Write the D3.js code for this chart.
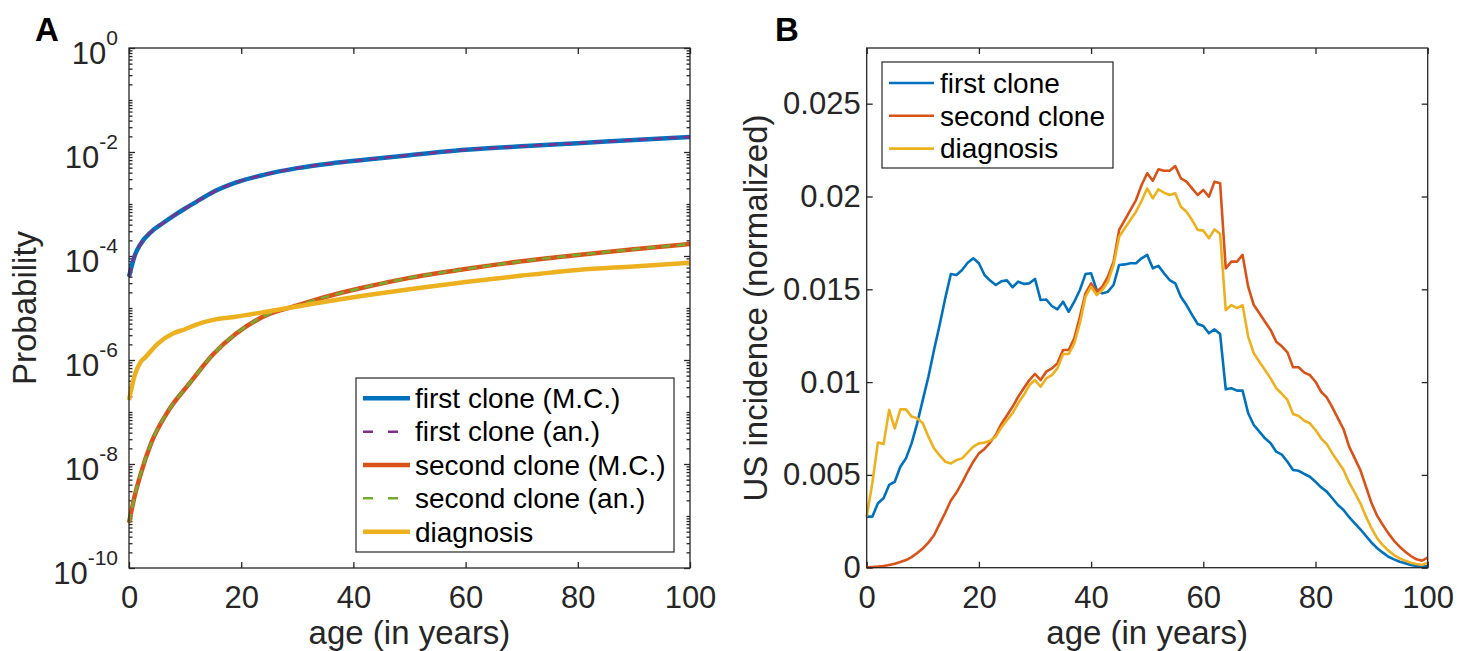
<!DOCTYPE html>
<html lang="en">
<head>
<meta charset="UTF-8">
<title>clone incidence</title>
<style>
  body { margin: 0; background: #fff; }
  svg { display: block; font-family: "Liberation Sans", Arial, sans-serif; }
</style>
</head>
<body>
<script src="https://cdn.jsdelivr.net/npm/d3@7"></script>
<div id="chart"></div>
<script>
// ---- panel A data (probability vs age, log scale) ----
const agesFirst = [0, 1, 2, 4, 6, 8, 10, 12, 15, 19, 24, 30, 36, 42, 50, 60, 70, 80, 90, 100];
const firstMC = [4.0e-5, 1.0e-4, 1.66e-4, 2.95e-4, 4.27e-4, 6.0e-4, 8.2e-4, 1.10e-3, 1.70e-3, 2.57e-3,
  3.63e-3, 4.9e-3, 6.03e-3, 7.08e-3, 8.7e-3, 1.10e-2, 1.29e-2, 1.48e-2, 1.70e-2, 1.95e-2];
const firstAn = firstMC.slice();

const agesSecond = [0, 1, 2, 4, 7, 11, 15, 19, 24, 30, 36, 42, 50, 60, 70, 80, 90, 100];
const secondMC = [7.4e-10, 2.4e-9, 6.0e-9, 2.6e-8, 1.05e-7, 3.8e-7, 1.29e-6, 3.16e-6, 6.9e-6,
  1.12e-5, 1.74e-5, 2.5e-5, 3.8e-5, 5.6e-5, 7.9e-5, 1.05e-4, 1.35e-4, 1.70e-4];
const secondAn = secondMC.slice();

const agesDiag = [0, 1, 2, 3, 5, 8, 10, 12, 15, 19, 24, 30, 36, 42, 50, 60, 70, 80, 90, 100];
const diagA = [1.7e-7, 5.0e-7, 8.9e-7, 1.15e-6, 2.0e-6, 3.3e-6, 3.9e-6, 4.8e-6, 5.9e-6, 6.8e-6,
  8.3e-6, 1.07e-5, 1.38e-5, 1.74e-5, 2.3e-5, 3.16e-5, 4.2e-5, 5.4e-5, 6.3e-5, 7.4e-5];

const logTicks = [1e0, 1e-2, 1e-4, 1e-6, 1e-8, 1e-10];
const logTickExp = ["0", "-2", "-4", "-6", "-8", "-10"];
const xTicks = [0, 20, 40, 60, 80, 100];

// ---- panel B data (US incidence, normalized), ages 0..100 ----
const agesB = d3.range(0, 101);
const firstB = [0.00275, 0.00275, 0.00347, 0.00374, 0.00446, 0.00463, 0.00544, 0.00589, 0.0067, 0.00778,
  0.00904, 0.01029, 0.01173, 0.01308, 0.01452, 0.01582, 0.01577, 0.01604, 0.01643, 0.01667,
  0.0164, 0.01577, 0.01547, 0.01523, 0.01543, 0.01548, 0.01511, 0.01541, 0.01529, 0.01532,
  0.01556, 0.01442, 0.01445, 0.0141, 0.01392, 0.01433, 0.01379, 0.01433, 0.01496, 0.01582,
  0.01586, 0.01496, 0.01478, 0.01487, 0.01523, 0.01631, 0.01634, 0.0164, 0.0164, 0.01667,
  0.01685, 0.01613, 0.01626, 0.01586, 0.0155, 0.01532, 0.0146, 0.01415, 0.01362, 0.01313,
  0.01302, 0.01263, 0.01284, 0.01259, 0.00961, 0.00967, 0.00954, 0.00954, 0.00832, 0.00769,
  0.00733, 0.00697, 0.0067, 0.00625, 0.00609, 0.00571, 0.00526, 0.00522, 0.00505, 0.0049,
  0.00463, 0.00433, 0.0041, 0.00374, 0.00338, 0.00311, 0.00272, 0.00239, 0.00207, 0.00171,
  0.00135, 0.00105, 0.00081, 0.00059, 0.00045, 0.00032, 0.00024, 0.00015, 0.00009, 0.00005,
  0.00009];
const secondB = [0.00002, 0.00004, 0.00006, 0.00009, 0.00015, 0.00021, 0.00031, 0.00041, 0.00057, 0.00079,
  0.00104, 0.00135, 0.00175, 0.00236, 0.00296, 0.00362, 0.00405, 0.00458, 0.00517, 0.00571,
  0.00616, 0.0064, 0.00674, 0.00715, 0.00775, 0.0082, 0.00867, 0.00921, 0.00967, 0.01011,
  0.01044, 0.01011, 0.01056, 0.01074, 0.01101, 0.01173, 0.01173, 0.01236, 0.01352, 0.01478,
  0.01532, 0.01487, 0.01514, 0.01568, 0.01649, 0.0182, 0.01873, 0.01927, 0.01981, 0.02062,
  0.02125, 0.02085, 0.02147, 0.02139, 0.02139, 0.02164, 0.02098, 0.0208, 0.02044, 0.02008,
  0.02035, 0.01999, 0.0208, 0.02071, 0.01613, 0.01649, 0.01649, 0.01685, 0.01514, 0.01415,
  0.01371, 0.01325, 0.01281, 0.01218, 0.01193, 0.0116, 0.0108, 0.0108, 0.01051, 0.01038,
  0.01002, 0.00948, 0.00918, 0.00864, 0.00805, 0.00746, 0.00652, 0.00589, 0.00526, 0.00436,
  0.00347, 0.00279, 0.0023, 0.00185, 0.00145, 0.00113, 0.00086, 0.00063, 0.00045, 0.00038,
  0.00054];
const diagB = [0.00275, 0.00455, 0.00674, 0.00666, 0.0085, 0.00751, 0.00853, 0.00853, 0.00814, 0.00805,
  0.00778, 0.00706, 0.00643, 0.00605, 0.00571, 0.00562, 0.0058, 0.00589, 0.0062, 0.00652,
  0.0067, 0.00674, 0.00684, 0.00706, 0.00755, 0.00795, 0.00832, 0.00886, 0.0093, 0.00984,
  0.01011, 0.00975, 0.0102, 0.01038, 0.01074, 0.01151, 0.01151, 0.01209, 0.01317, 0.0146,
  0.01514, 0.01469, 0.01496, 0.01541, 0.01631, 0.01783, 0.01829, 0.01873, 0.01918, 0.01976,
  0.02044, 0.0199, 0.02039, 0.0202, 0.02008, 0.02017, 0.01945, 0.01918, 0.01873, 0.0182,
  0.01816, 0.01775, 0.01823, 0.01798, 0.01388, 0.01415, 0.01398, 0.01415, 0.01245, 0.01155,
  0.0111, 0.01065, 0.0102, 0.00967, 0.00937, 0.00904, 0.00828, 0.00817, 0.00792, 0.00778,
  0.00742, 0.00697, 0.00666, 0.00616, 0.00571, 0.00526, 0.00458, 0.00404, 0.00347, 0.00275,
  0.00212, 0.00158, 0.00122, 0.00092, 0.00068, 0.0005, 0.00038, 0.00027, 0.0002, 0.00015,
  0.00027];
const yTicksB = [0, 0.005, 0.01, 0.015, 0.02, 0.025];
const yTickLabelsB = ["0", "0.005", "0.01", "0.015", "0.02", "0.025"];

// matlab default colours
const blue = "#0072BD", red = "#D95319", yellow = "#EDB120", purple = "#7E2F8E", green = "#77AC30";
const axisColor = "#262626";

const width = 1466, height = 651;
const svg = d3.select("#chart").append("svg").attr("width", width).attr("height", height);
svg.append("rect").attr("width", width).attr("height", height).attr("fill", "#fff");

// plot boxes
const boxA = { left: 129, right: 690, top: 48, bottom: 568 };
const boxB = { left: 866.7, right: 1427.7, top: 48, bottom: 567.7 };

const xA = d3.scaleLinear().domain([0, 100]).range([boxA.left, boxA.right]);
const yA = d3.scaleLog().domain([1e-10, 1]).range([boxA.bottom, boxA.top]);
const xB = d3.scaleLinear().domain([0, 100]).range([boxB.left, boxB.right]);
const yB = d3.scaleLinear().domain([0, 0.028]).range([boxB.bottom, boxB.top]);

function styleAxis(g) {
  g.select(".domain").remove();
  g.selectAll(".tick line").attr("stroke", axisColor).attr("stroke-width", 1.3);
  g.selectAll(".tick text").attr("fill", axisColor).style("font-size", "31px")
    .style("font-family", "'Liberation Sans', Arial, sans-serif");
}

function drawFrame(box, xs) {
  // x ticks bottom (labelled) and top
  svg.append("g").attr("transform", `translate(0,${box.bottom})`)
    .call(d3.axisBottom(xs).tickValues(xTicks).tickSizeInner(-6).tickSizeOuter(0).tickPadding(18))
    .call(styleAxis);
  svg.append("g").attr("transform", `translate(0,${box.top})`)
    .call(d3.axisTop(xs).tickValues(xTicks).tickSizeInner(-6).tickSizeOuter(0).tickFormat(""))
    .call(styleAxis);
}

// ================= panel A =================
drawFrame(boxA, xA);

const gyA = svg.append("g").attr("transform", `translate(${boxA.left},0)`)
  .call(d3.axisLeft(yA).tickValues(logTicks).tickSizeInner(-6).tickSizeOuter(0).tickPadding(11).tickFormat(""))
  .call(styleAxis);
gyA.selectAll(".tick text").attr("dy", "0.5em").each(function(d, i) {
  const t = d3.select(this);
  t.append("tspan").text("10");
  t.append("tspan").attr("dy", -19).style("font-size", "21px").text(logTickExp[i]);
});
svg.append("g").attr("transform", `translate(${boxA.right},0)`)
  .call(d3.axisRight(yA).tickValues(logTicks).tickSizeInner(-6).tickSizeOuter(0).tickFormat(""))
  .call(styleAxis);

// minor log ticks
const minor = [];
for (let k = -10; k < 0; k++) {
  for (let m = 1; m <= 9; m++) {
    if (m === 1 && k % 2 === 0) continue;
    minor.push(m * Math.pow(10, k));
  }
}
svg.append("g").attr("transform", `translate(${boxA.left},0)`)
  .call(d3.axisLeft(yA).tickValues(minor).tickSizeInner(-3.5).tickSizeOuter(0).tickFormat(""))
  .call(styleAxis);
svg.append("g").attr("transform", `translate(${boxA.right},0)`)
  .call(d3.axisRight(yA).tickValues(minor).tickSizeInner(-3.5).tickSizeOuter(0).tickFormat(""))
  .call(styleAxis);

const lineA = (ages) => d3.line().curve(d3.curveMonotoneX).x((d, i) => xA(ages[i])).y(d => yA(d));

const seriesA = [
  { ages: agesFirst, vals: firstMC, color: blue, w: 4.5, dash: null },
  { ages: agesFirst, vals: firstAn, color: purple, w: 2.5, dash: "9,6" },
  { ages: agesSecond, vals: secondMC, color: red, w: 4.5, dash: null },
  { ages: agesSecond, vals: secondAn, color: green, w: 2.5, dash: "9,6" },
  { ages: agesDiag, vals: diagA, color: yellow, w: 4.5, dash: null }
];
seriesA.forEach(s => {
  svg.append("path").attr("d", lineA(s.ages)(s.vals)).attr("fill", "none")
    .attr("stroke", s.color).attr("stroke-width", s.w).attr("stroke-linejoin", "round")
    .attr("stroke-dasharray", s.dash);
});

svg.append("rect").attr("x", boxA.left).attr("y", boxA.top)
  .attr("width", boxA.right - boxA.left).attr("height", boxA.bottom - boxA.top)
  .attr("fill", "none").attr("stroke", axisColor).attr("stroke-width", 1.3);

// legend A
const legANames = ["first clone (M.C.)", "first clone (an.)", "second clone (M.C.)", "second clone (an.)", "diagnosis"];
const legA = svg.append("g");
legA.append("rect").attr("x", 356).attr("y", 378).attr("width", 318).attr("height", 174)
  .attr("fill", "#fff").attr("stroke", axisColor).attr("stroke-width", 1.2);
legANames.forEach((name, i) => {
  const s = seriesA[i];
  const y = 398.3 + i * 33.35;
  legA.append("line").attr("x1", 363).attr("x2", 410).attr("y1", y).attr("y2", y)
    .attr("stroke", s.color).attr("stroke-width", s.dash ? 2.5 : 4.5)
    .attr("stroke-dasharray", s.dash ? "10,15" : null);
  legA.append("text").attr("x", 415).attr("y", y).attr("dy", "0.35em")
    .style("font-size", "28px").attr("fill", "#000").text(name);
});

svg.append("text").attr("transform", "translate(36,308) rotate(-90)").attr("text-anchor", "middle")
  .style("font-size", "33px").attr("fill", axisColor).text("Probability");
svg.append("text").attr("x", (boxA.left + boxA.right) / 2).attr("y", 644).attr("text-anchor", "middle")
  .style("font-size", "33px").attr("fill", axisColor).text("age (in years)");
svg.append("text").attr("x", 35).attr("y", 41).style("font-size", "33px").style("font-weight", "bold")
  .attr("fill", "#000").text("A");

// ================= panel B =================
drawFrame(boxB, xB);
svg.append("g").attr("transform", `translate(${boxB.left},0)`)
  .call(d3.axisLeft(yB).tickValues(yTicksB).tickSizeInner(-6).tickSizeOuter(0).tickPadding(6)
    .tickFormat((d, i) => yTickLabelsB[i]))
  .call(styleAxis);
svg.append("g").attr("transform", `translate(${boxB.right},0)`)
  .call(d3.axisRight(yB).tickValues(yTicksB).tickSizeInner(-6).tickSizeOuter(0).tickFormat(""))
  .call(styleAxis);

const lineB = d3.line().x((d, i) => xB(agesB[i])).y(d => yB(d));
const seriesB = [
  { name: "first clone", vals: firstB, color: blue },
  { name: "second clone", vals: secondB, color: red },
  { name: "diagnosis", vals: diagB, color: yellow }
];
seriesB.forEach(s => {
  svg.append("path").attr("d", lineB(s.vals)).attr("fill", "none").attr("stroke", s.color)
    .attr("stroke-width", 2.6).attr("stroke-linejoin", "round");
});

svg.append("rect").attr("x", boxB.left).attr("y", boxB.top)
  .attr("width", boxB.right - boxB.left).attr("height", boxB.bottom - boxB.top)
  .attr("fill", "none").attr("stroke", axisColor).attr("stroke-width", 1.3);

const legB = svg.append("g");
legB.append("rect").attr("x", 882).attr("y", 62).attr("width", 231).attr("height", 106)
  .attr("fill", "#fff").attr("stroke", axisColor).attr("stroke-width", 1.2);
seriesB.forEach((s, i) => {
  const y = 83 + i * 32.8;
  legB.append("line").attr("x1", 889).attr("x2", 934).attr("y1", y).attr("y2", y)
    .attr("stroke", s.color).attr("stroke-width", 2.6);
  legB.append("text").attr("x", 940).attr("y", y).attr("dy", "0.35em")
    .style("font-size", "28px").attr("fill", "#000").text(s.name);
});

svg.append("text").attr("transform", "translate(767,308) rotate(-90)").attr("text-anchor", "middle")
  .style("font-size", "33px").attr("fill", axisColor).text("US incidence (normalized)");
svg.append("text").attr("x", (boxB.left + boxB.right) / 2).attr("y", 644).attr("text-anchor", "middle")
  .style("font-size", "33px").attr("fill", axisColor).text("age (in years)");
svg.append("text").attr("x", 775).attr("y", 41).style("font-size", "33px").style("font-weight", "bold")
  .attr("fill", "#000").text("B");
</script>
</body>
</html>
